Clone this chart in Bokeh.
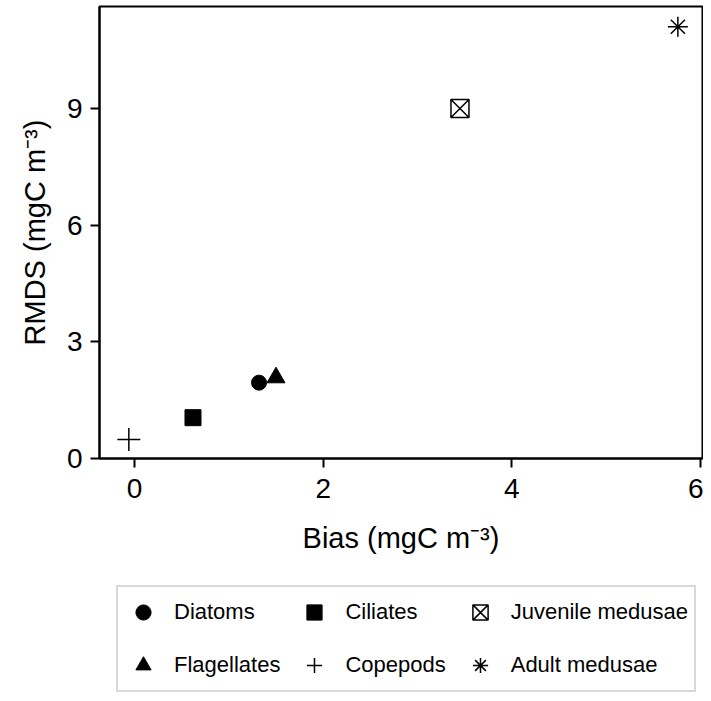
from bokeh.plotting import figure
from bokeh.models import Legend, LegendItem, Range1d, FixedTicker
from bokeh.layouts import column
from bokeh.embed import file_html
from bokeh.resources import INLINE

# ---- data ----
groups = ["Diatoms", "Ciliates", "Juvenile medusae", "Flagellates", "Copepods", "Adult medusae"]
bias = [1.32, 0.62, 3.45, 1.50, -0.06, 5.76]
rmds = [1.95, 1.05, 9.00, 2.08, 0.49, 11.10]
markers = ["circle", "square", "square_x", "triangle", "cross", "asterisk"]
x_ticks = [0, 2, 4, 6]
y_ticks = [0, 3, 6, 9]

FONT = "Liberation Sans"

p = figure(
    width=703, height=570,
    min_border_left=99, min_border_right=1, min_border_top=6, min_border_bottom=112,
    x_range=Range1d(-0.371, 6.021), y_range=Range1d(0, 11.62),
    output_backend="svg", toolbar_location=None,
)
p.xgrid.visible = False
p.ygrid.visible = False
p.outline_line_color = "black"
p.outline_line_width = 2
p.outline_line_alpha = 1
p.background_fill_color = "white"
p.border_fill_color = "white"

sizes = {"circle": 15, "square": 16, "square_x": 18, "triangle": 18, "cross": 23, "asterisk": 20}


def style(m):
    filled = m in ("circle", "square", "triangle")
    return dict(marker=m, fill_color="black" if filled else None,
                line_color="black", line_width=1 if filled else 1.5)


for g, x, y, m in zip(groups, bias, rmds, markers):
    p.scatter(x=[x], y=[y], size=sizes[m], **style(m))

p.xaxis.axis_label = "Bias (mgC m\u207b\u00b3)"
p.yaxis.axis_label = "RMDS (mgC m\u207b\u00b3)"
p.xaxis.ticker = FixedTicker(ticks=x_ticks)
p.yaxis.ticker = FixedTicker(ticks=y_ticks)
for ax in (p.xaxis[0], p.yaxis[0]):
    ax.axis_line_width = 2
    ax.major_tick_line_width = 2
    ax.major_tick_in = 0
    ax.major_tick_out = 9
    ax.minor_tick_line_color = None
    ax.major_label_text_font = FONT
    ax.major_label_text_font_size = "28px"
    ax.major_label_text_color = "black"
    ax.axis_label_text_font = FONT
    ax.axis_label_text_font_size = "29px"
    ax.axis_label_text_font_style = "normal"
    ax.axis_label_text_color = "black"
p.xaxis.major_label_standoff = 11
p.xaxis.axis_label_standoff = 21
p.yaxis.major_label_standoff = 8
p.yaxis.axis_label_standoff = 13

# ---- legend panel (same groups / markers, glyphs hidden, legend only) ----
lg = figure(
    width=703, height=123, min_border=0,
    x_range=Range1d(0, 1), y_range=Range1d(0, 1),
    output_backend="svg", toolbar_location=None,
)
lg.axis.visible = False
lg.grid.visible = False
lg.outline_line_color = None
lg.border_fill_color = "white"
lg.background_fill_color = "white"

items = []
for g, x, y, m in zip(groups, bias, rmds, markers):
    r = lg.scatter(x=[x], y=[y], size=sizes[m], visible=False, **style(m))
    items.append(LegendItem(label=g, renderers=[r]))

legend = Legend(
    items=items, orientation="horizontal", ncols=3,
    location=(17, 1), margin=0, padding=6,
    glyph_width=38, glyph_height=38, label_standoff=12, spacing=15,
    label_text_font=FONT, label_text_font_size="22px", label_text_color="black",
    border_line_color="#b3b3b3", border_line_width=2,
    background_fill_color="white", background_fill_alpha=1,
    inactive_fill_alpha=0,
)
lg.add_layout(legend, "center")

layout = column(p, lg, spacing=0)
open("out.html", "w").write(file_html(layout, INLINE))
